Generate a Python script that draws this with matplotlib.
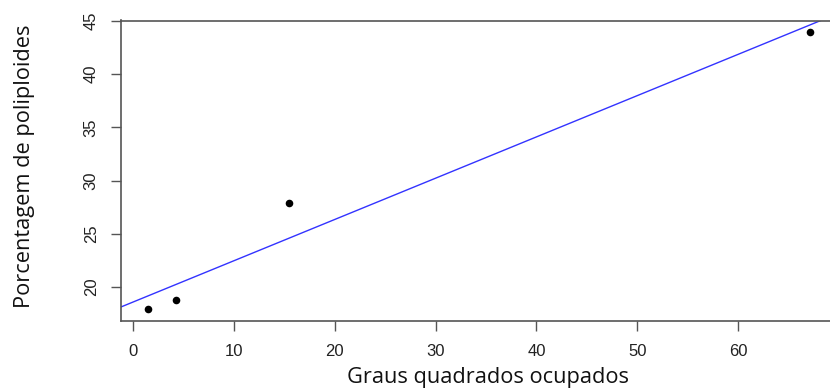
import numpy as np
import matplotlib
matplotlib.use("Agg")
import matplotlib.pyplot as plt

# Occupied square degrees vs. percentage of polyploid species
graus = [1.4, 4.2, 15.4, 67.2]
poliploides = [17.9, 18.8, 27.9, 44.0]
xticks = [0, 10, 20, 30, 40, 50, 60]
yticks = [20, 25, 30, 35, 40, 45]

W, H = 830, 391
fig = plt.figure(figsize=(W / 100, H / 100), dpi=100)
fig.patch.set_facecolor("white")

left, right, top, bottom = 121, 837, 20.5, 320.5
ax = fig.add_axes([left / W, 1 - bottom / H, (right - left) / W, (bottom - top) / H])

# R-style 4% padding around the data range
xr = max(graus) - min(graus)
yr = max(poliploides) - min(poliploides)
ax.set_xlim(min(graus) - 0.04 * xr, max(graus) + 0.04 * xr)
ax.set_ylim(min(poliploides) - 0.04 * yr, max(poliploides) + 0.04 * yr)

ax.scatter(graus, poliploides, s=30, color="black", zorder=3, linewidths=0)

slope, intercept = np.polyfit(graus, poliploides, 1)
ax.axline((0, intercept), slope=slope, color="#3333ff", lw=1.0, zorder=2)

for s in ax.spines.values():
    s.set_color("#555555")
    s.set_linewidth(1.2)

ax.set_xticks(xticks)
ax.set_yticks(yticks)
ax.tick_params(axis="both", length=7, width=1, color="#555555",
               labelsize=12, labelcolor="#222222")
ax.tick_params(axis="x", pad=10)
ax.tick_params(axis="y", pad=9)
for lab in ax.get_yticklabels():
    lab.set_rotation(90)
    lab.set_va("center")
for lab in ax.get_xticklabels() + ax.get_yticklabels():
    lab.set_family("Liberation Sans")

fig.text(488 / W, 1 - 377 / H, "Graus quadrados ocupados", ha="center", va="center",
         fontsize=15.7, family="Open Sans", color="#111111")
fig.text(25 / W, 1 - 166 / H, "Porcentagem de poliploides", ha="center", va="center",
         rotation=90, fontsize=15.7, family="Open Sans", color="#111111")

fig.savefig("out.png", dpi=100)
